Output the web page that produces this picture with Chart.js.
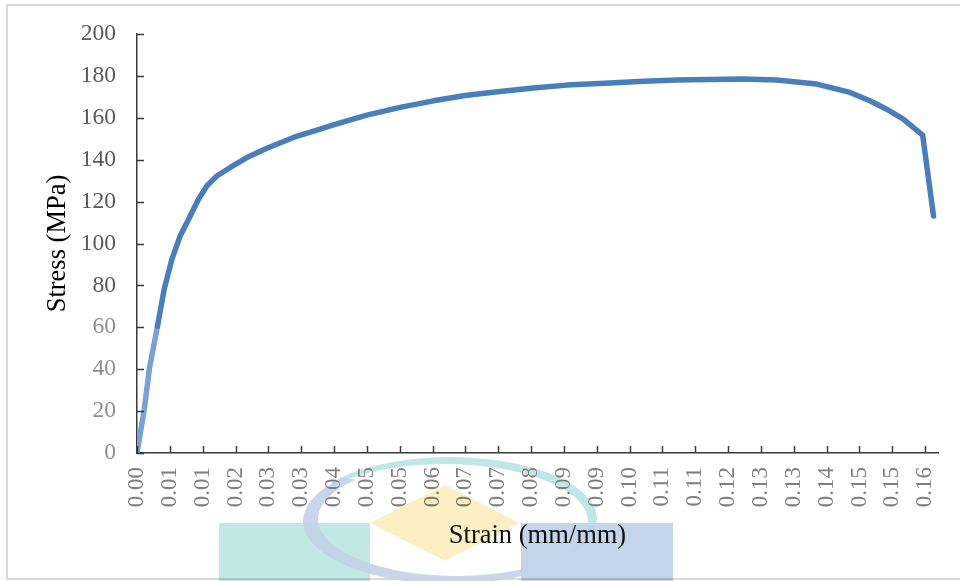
<!DOCTYPE html>
<html>
<head>
<meta charset="utf-8">
<title>Stress - Strain</title>
<script src="https://cdn.jsdelivr.net/npm/chart.js@4.4.1/dist/chart.umd.min.js"></script>
<style>
  html, body { margin: 0; padding: 0; background: #fff; overflow: hidden; }
  #wrap { position: relative; width: 960px; height: 581px; }
</style>
</head>
<body>
<div id="wrap"><canvas id="chart" width="960" height="581"></canvas></div>
<script>
// strain (mm/mm) and stress (MPa)
const strain = [0, 0.00146, 0.00253, 0.00415, 0.0055, 0.00706, 0.00874, 0.01077, 0.01245, 0.01415,
  0.01617, 0.01887, 0.02225, 0.0263, 0.03168, 0.03709, 0.03978, 0.04654, 0.05328, 0.06002,
  0.06678, 0.07352, 0.08026, 0.08702, 0.09579, 0.10253, 0.10929, 0.11603, 0.12277, 0.12953,
  0.13763, 0.14437, 0.14842, 0.1518, 0.15516, 0.15909, 0.1613];
const stress = [0, 20.7, 40.6, 60.5, 78.1, 92.4, 103.6, 113.1, 121.1, 127.5,
  132.2, 136.3, 141, 145.5, 150.6, 154.6, 156.6, 161.3, 165.0, 168.1,
  170.8, 172.6, 174.2, 175.6, 176.6, 177.4, 178.0, 178.3, 178.5, 178.0,
  176.1, 172.1, 168.1, 164.1, 159.4, 151.7, 113.1];

// category-style tick labels of the x axis (Excel rounds them to 2 places)
const xTickLabels = ['0.00', '0.01', '0.01', '0.02', '0.03', '0.03', '0.04', '0.05', '0.05',
  '0.06', '0.07', '0.07', '0.08', '0.09', '0.09', '0.10', '0.11', '0.11', '0.12', '0.13',
  '0.13', '0.14', '0.15', '0.15', '0.16'];
const xTickStep = 0.00665;
const xMax = 0.1622;
const yTicks = [0, 20, 40, 60, 80, 100, 120, 140, 160, 180, 200];

const xTickValues = xTickLabels.map((_, i) => i * xTickStep);
const AXIS = '#3a3a3a';
const SERIF = '"Liberation Serif", "Times New Roman", serif';

// white background + light frame
const frame = {
  id: 'frame',
  beforeDraw(chart) {
    const c = chart.ctx;
    c.save();
    c.fillStyle = '#fff';
    c.fillRect(0, 0, chart.width, chart.height);
    c.strokeStyle = '#d9d9d9';
    c.lineWidth = 2;
    c.strokeRect(7, 5, chart.width + 20, chart.height - 7);
    c.restore();
  }
};

// tick marks pointing into the plot area
const insideTicks = {
  id: 'insideTicks',
  afterDatasetsDraw(chart) {
    const c = chart.ctx;
    const xs = chart.scales.x;
    const ys = chart.scales.y;
    const area = chart.chartArea;
    c.save();
    c.strokeStyle = AXIS;
    c.lineWidth = 1.5;
    c.beginPath();
    xTickValues.forEach((v) => {
      const px = Math.round(xs.getPixelForValue(v)) + 0.5;
      c.moveTo(px, area.bottom);
      c.lineTo(px, area.bottom - 7);
    });
    yTicks.forEach((v) => {
      const py = Math.round(ys.getPixelForValue(v)) + 0.5;
      c.moveTo(area.left, py);
      c.lineTo(area.left + 7, py);
    });
    c.stroke();
    c.restore();
  }
};

// crescent piece between two ellipses
function crescent(c, outer, inner, a0, a1) {
  c.beginPath();
  c.ellipse(outer[0], outer[1], outer[2], outer[3], 0, a0, a1, false);
  c.ellipse(inner[0], inner[1], inner[2], inner[3], 0, a1, a0, true);
  c.closePath();
  c.fill();
}

// faint logo behind the axis title
const watermark = {
  id: 'watermark',
  afterDraw(chart) {
    const c = chart.ctx;
    c.save();
    c.globalCompositeOperation = 'multiply';
    c.fillStyle = '#c2e8e5';
    c.fillRect(219, 523, 151, 58);
    c.fillStyle = '#c4d4ea';
    c.fillRect(521, 523, 152, 58);
    c.fillStyle = '#fcefc3';
    c.beginPath();
    c.moveTo(370, 523);
    c.lineTo(445, 485);
    c.lineTo(520, 523);
    c.lineTo(445, 561);
    c.closePath();
    c.fill();
    c.globalCompositeOperation = 'darken';
    c.fillStyle = '#bfe7e4';
    crescent(c, [450, 519, 147, 62], [445, 521, 143, 57], -2.5, 0.55);
    c.fillStyle = '#c8d5eb';
    crescent(c, [450, 521, 147, 63], [457, 519, 139, 57], 0.55, 3.9);
    c.restore();
  }
};

new Chart(document.getElementById('chart'), {
  type: 'line',
  data: {
    datasets: [{
      data: strain.map((x, i) => ({ x: x, y: stress[i] })),
      borderColor: '#4a7ebb',
      borderWidth: 5.5,
      borderCapStyle: 'round',
      borderJoinStyle: 'round',
      pointRadius: 0,
      tension: 0,
      segment: {
        borderColor: (ctx) => (ctx.p1.parsed.y <= 62 ? '#79a1d1' : undefined)
      }
    }]
  },
  options: {
    responsive: false,
    animation: false,
    layout: { padding: { top: 34, right: 22, bottom: 0, left: 0 } },
    plugins: {
      legend: { display: false },
      tooltip: { enabled: false }
    },
    scales: {
      x: {
        type: 'linear',
        min: 0,
        max: xMax,
        afterBuildTicks: (scale) => {
          scale.ticks = xTickValues.map((v) => ({ value: v }));
        },
        afterFit: (scale) => {
          scale.height = 128;
          scale.paddingLeft = 0;
          scale.paddingRight = 0;
        },
        grid: { display: false, drawTicks: false },
        border: { display: true, color: AXIS, width: 1.5 },
        ticks: {
          autoSkip: false,
          minRotation: 90,
          maxRotation: 90,
          padding: 14,
          color: '#7f7f7f',
          font: { family: SERIF, size: 23 },
          callback: (v, i) => xTickLabels[i]
        },
        title: {
          display: true,
          text: 'Strain (mm/mm)',
          color: '#111',
          font: { family: SERIF, size: 26.5, lineHeight: 1.2 },
          padding: { top: 0, bottom: 29 }
        }
      },
      y: {
        min: 0,
        max: 200,
        afterBuildTicks: (scale) => {
          scale.ticks = yTicks.map((v) => ({ value: v }));
        },
        afterFit: (scale) => {
          scale.width = 137;
          scale.paddingTop = 0;
          scale.paddingBottom = 0;
        },
        grid: { display: false, drawTicks: false },
        border: { display: true, color: AXIS, width: 1.5 },
        ticks: {
          padding: 21,
          color: (ctx) => (ctx.tick && ctx.tick.value <= 60 ? '#8f8f8f' : '#595959'),
          font: { family: SERIF, size: 23.5 }
        },
        title: {
          display: true,
          text: 'Stress (MPa)',
          color: '#000',
          font: { family: SERIF, size: 26.5, lineHeight: 1.2 },
          padding: { top: 42, bottom: 0 }
        }
      }
    }
  },
  plugins: [frame, insideTicks, watermark]
});
</script>
</body>
</html>
